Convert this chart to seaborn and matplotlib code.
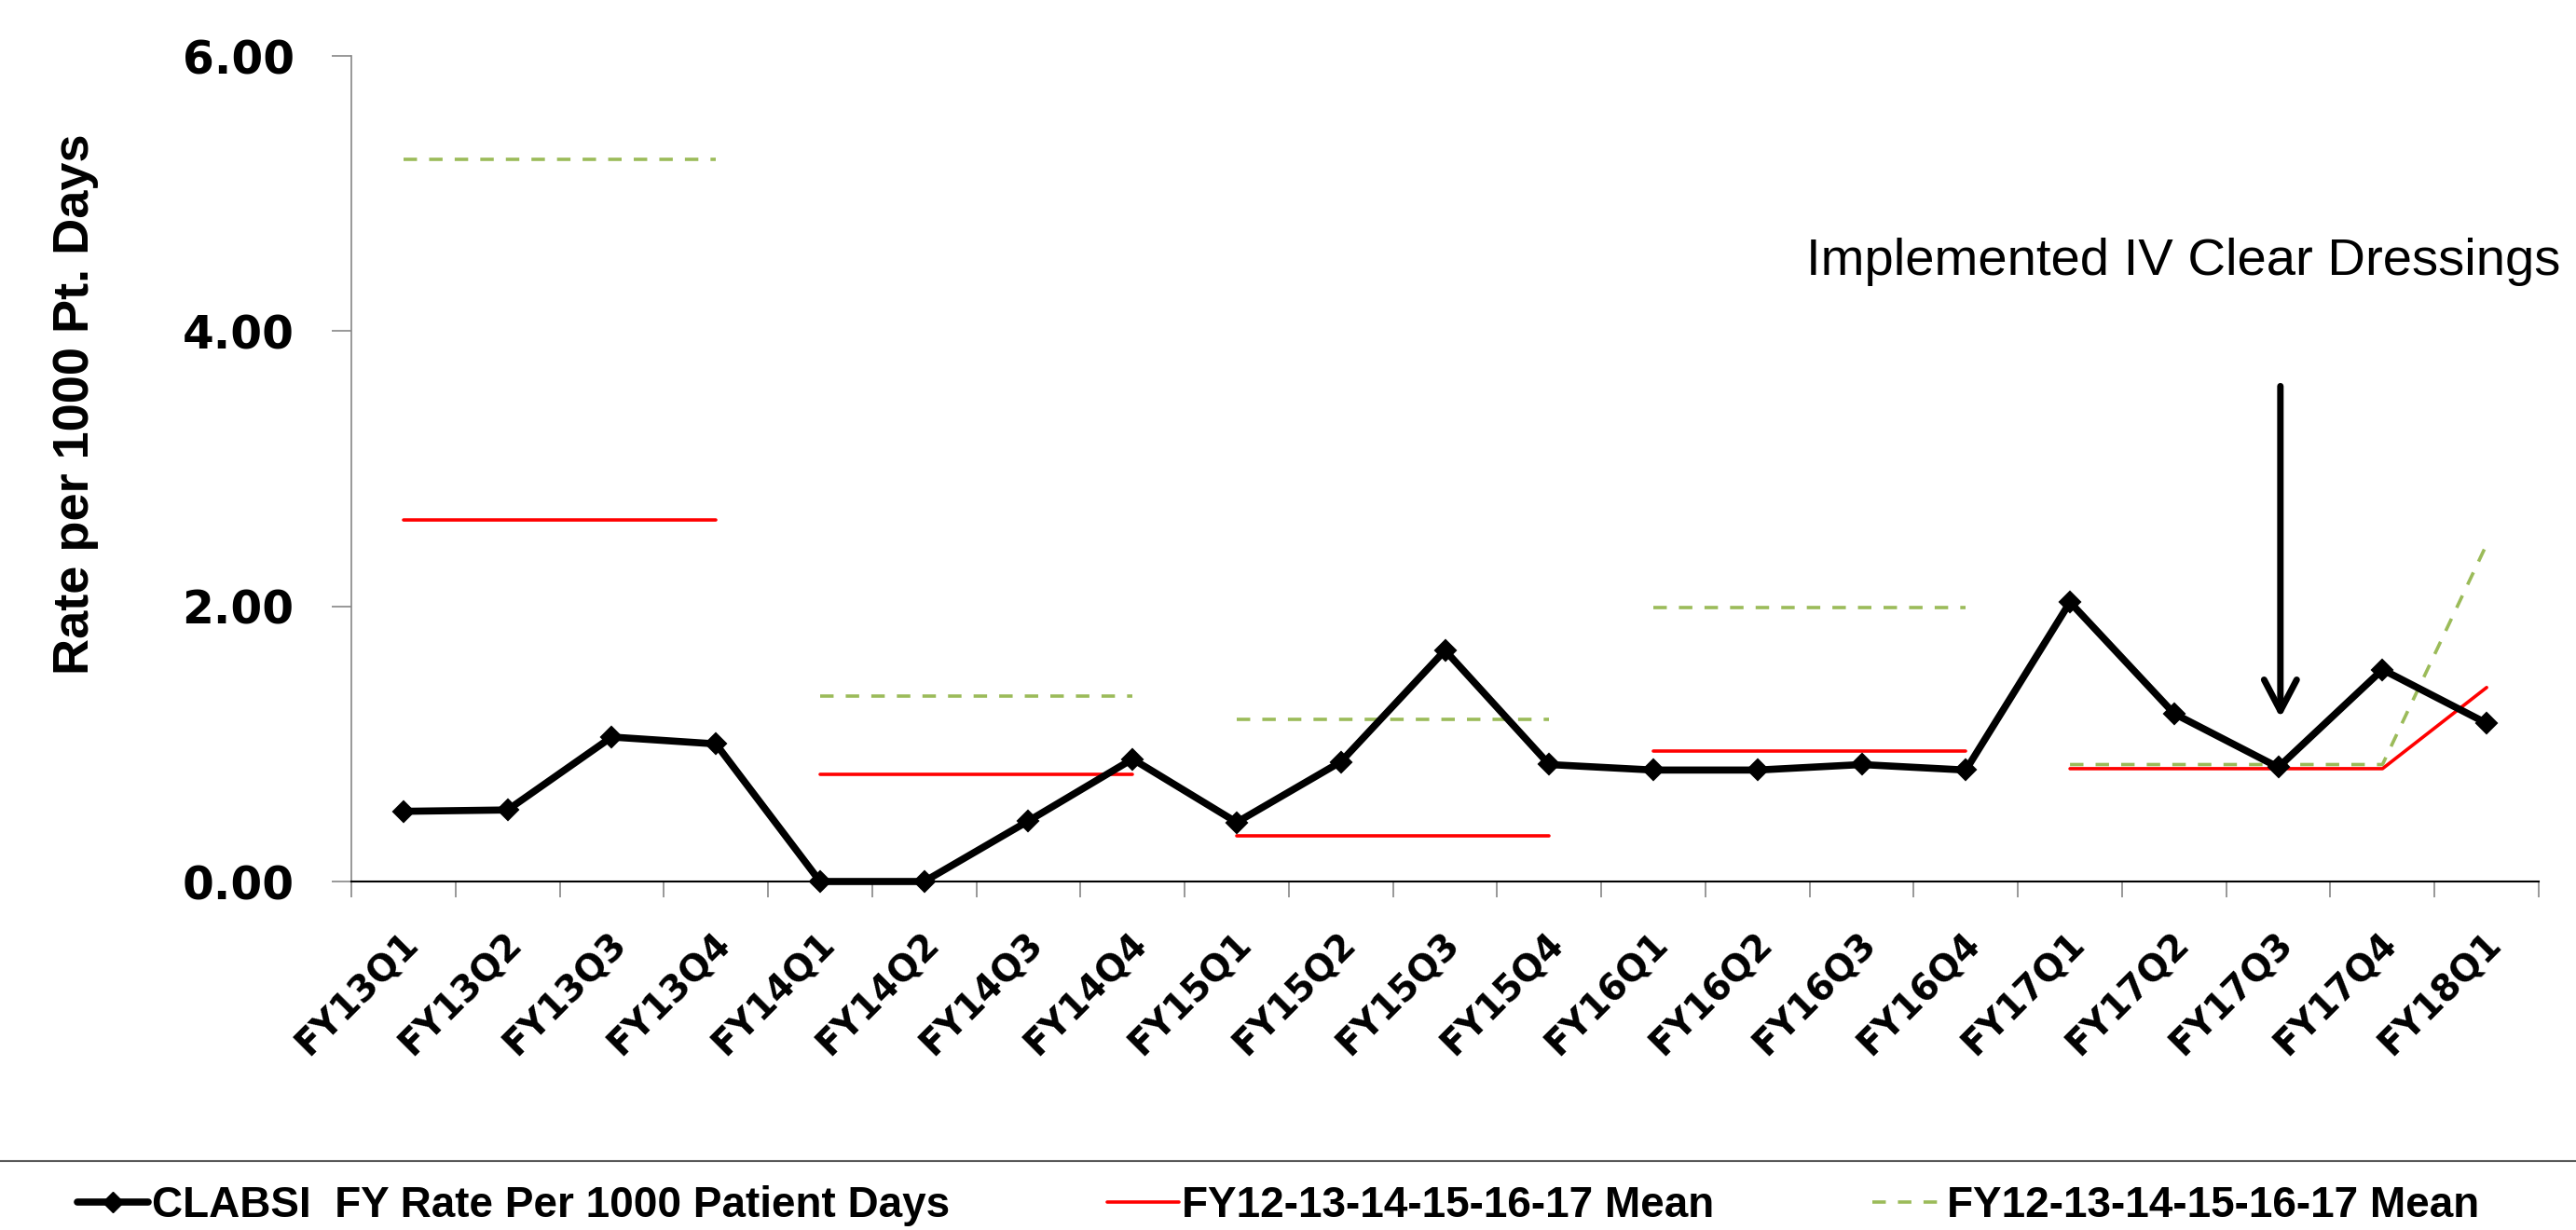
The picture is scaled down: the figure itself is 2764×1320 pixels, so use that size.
import numpy as np
import pandas as pd
import seaborn as sns
import matplotlib.pyplot as plt
from matplotlib.lines import Line2D
from matplotlib.transforms import ScaledTranslation

# quarterly CLABSI rate per 1000 patient days
quarters = ['FY13Q1', 'FY13Q2', 'FY13Q3', 'FY13Q4',
            'FY14Q1', 'FY14Q2', 'FY14Q3', 'FY14Q4',
            'FY15Q1', 'FY15Q2', 'FY15Q3', 'FY15Q4',
            'FY16Q1', 'FY16Q2', 'FY16Q3', 'FY16Q4',
            'FY17Q1', 'FY17Q2', 'FY17Q3', 'FY17Q4',
            'FY18Q1']
clabsi_rate = [0.51, 0.52, 1.05, 1.00,
               0.00, 0.00, 0.44, 0.89,
               0.43, 0.87, 1.68, 0.85,
               0.81, 0.81, 0.85, 0.81,
               2.03, 1.22, 0.83, 1.54,
               1.15]

# the two "mean" series, drawn as one segment per fiscal year
mean_group = ['FY13', 'FY13', 'FY13', 'FY13',
              'FY14', 'FY14', 'FY14', 'FY14',
              'FY15', 'FY15', 'FY15', 'FY15',
              'FY16', 'FY16', 'FY16', 'FY16',
              'FY17', 'FY17', 'FY17', 'FY17',
              'FY17']
mean_red = [2.63, 2.63, 2.63, 2.63,
            0.78, 0.78, 0.78, 0.78,
            0.33, 0.33, 0.33, 0.33,
            0.95, 0.95, 0.95, 0.95,
            0.82, 0.82, 0.82, 0.82,
            1.41]
mean_green = [5.25, 5.25, 5.25, 5.25,
              1.35, 1.35, 1.35, 1.35,
              1.18, 1.18, 1.18, 1.18,
              1.99, 1.99, 1.99, 1.99,
              0.85, 0.85, 0.85, 0.85,
              2.45]

legend_labels = ['CLABSI  FY Rate Per 1000 Patient Days',
                 'FY12-13-14-15-16-17 Mean',
                 'FY12-13-14-15-16-17 Mean']
y_ticks = [0, 2, 4, 6]

df = pd.DataFrame({'pos': np.arange(len(quarters)), 'quarter': quarters,
                   'rate': clabsi_rate, 'red': mean_red,
                   'green': mean_green, 'grp': mean_group})

sns.set_style('white')
narrow = ['Liberation Sans', 'DejaVu Sans']
plt.rcParams['font.family'] = ['DejaVu Sans']

fig = plt.figure(figsize=(27.64, 13.2), dpi=100)
ax = fig.add_axes([377/2764, 1-946/1320, (2724-377)/2764, (946-60)/1320])

RED = '#FF0000'
GREEN = '#9BBB59'

sns.lineplot(data=df, x='pos', y='red', units='grp', estimator=None,
             color=RED, lw=2.6, ax=ax)
sns.lineplot(data=df, x='pos', y='green', units='grp', estimator=None,
             color=GREEN, lw=2.6, linestyle=(0, (4, 3.6)), ax=ax)
sns.lineplot(data=df, x='pos', y='rate', color='black', lw=5.5,
             marker='D', markersize=11, markeredgewidth=1.5,
             markeredgecolor='black', clip_on=False, zorder=5, ax=ax)

ax.set_xlim(-0.5, len(quarters) - 0.5)
ax.set_ylim(0, 6)
ax.set_yticks(y_ticks)
ax.set_yticklabels([f'{v:.2f}' for v in y_ticks])
ax.set_xticks(df['pos'])
ax.set_xticklabels(quarters, rotation=45, ha='right', va='center',
                   rotation_mode='anchor')
ax.set_xticks(np.arange(-0.5, len(quarters), 1.0), minor=True)

ax.tick_params(axis='y', which='major', length=21/100*72, width=1.2,
               color='#868686', direction='out', left=True,
               labelsize=35, pad=29)
ax.tick_params(axis='x', which='major', length=0, labelsize=28, pad=44)
ax.tick_params(axis='x', which='minor', length=17/100*72, width=1.2,
               color='#868686', direction='out', bottom=True)
shift = ScaledTranslation(10/100, 0, fig.dpi_scale_trans)
for lab in ax.get_xticklabels():
    lab.set_transform(lab.get_transform() + shift)
for lab in ax.get_xticklabels() + ax.get_yticklabels():
    lab.set_fontweight('bold')
    lab.set_color('black')

for s in ['top', 'right']:
    ax.spines[s].set_visible(False)
ax.spines['left'].set_color('#868686')
ax.spines['left'].set_linewidth(1.2)
ax.spines['bottom'].set_color('black')
ax.spines['bottom'].set_linewidth(1.5)

ax.set_xlabel('')
ax.set_ylabel('Rate per 1000 Pt. Days', fontsize=39, fontweight='bold',
              family=narrow, color='black')
ax.yaxis.set_label_coords((106-377)/2347, (946-434)/886)

# annotation
ax.text(13.47, 4.41, 'Implemented IV Clear Dressings', fontsize=40.5,
        family=narrow, va='baseline', ha='left', color='black',
        clip_on=False)
ax.annotate('', xy=(18.02, 1.19), xytext=(18.02, 3.60),
            arrowprops=dict(arrowstyle='->, head_length=0.8, head_width=0.42',
                            lw=5, color='black', shrinkA=0, shrinkB=0,
                            mutation_scale=30))

# legend
handles = [Line2D([], [], color='black', lw=5.5, marker='D', markersize=11),
           Line2D([], [], color=RED, lw=2.6),
           Line2D([], [], color=GREEN, lw=2.6, linestyle=(0, (4, 3.6)))]
leg = fig.legend(handles, legend_labels, loc='center left',
                 bbox_to_anchor=(83/2764, 1-1294/1320), ncol=3,
                 frameon=False, handlelength=1.66, handletextpad=0.08,
                 columnspacing=3.7, borderpad=0, borderaxespad=0,
                 prop=dict(family=narrow, weight='bold', size=33))
for t in leg.get_texts():
    t.set_color('black')
fig.add_artist(Line2D([0, 1], [1-1246/1320, 1-1246/1320],
                      transform=fig.transFigure, color='#595959', lw=1.5))

fig.savefig('out.png', dpi=100)
